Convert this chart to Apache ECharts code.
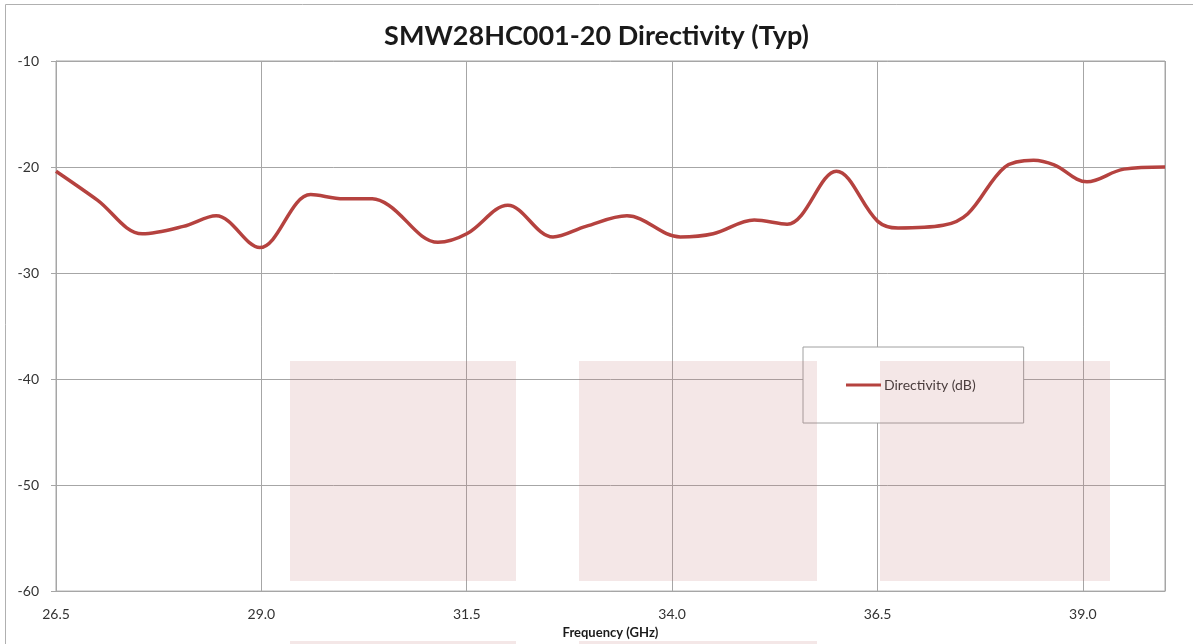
<!DOCTYPE html>
<html>
<head>
<meta charset="utf-8">
<title>SMW28HC001-20 Directivity</title>
<script src="https://cdn.jsdelivr.net/npm/echarts@6/dist/echarts.min.js"></script>
<style>
  html, body { margin: 0; padding: 0; background: #fff; }
  #main { width: 1193px; height: 644px; }
</style>
</head>
<body>
<div id="main"></div>
<script>
// frequency (GHz) and directivity (dB)
const freq = [26.5, 27.0, 27.55, 28.05, 28.45, 28.98, 29.6, 30.0, 30.35, 30.55,
              31.15, 31.5, 32.0, 32.55, 32.95, 33.45, 34.1, 34.5, 35.0, 35.4,
              36.0, 36.5, 36.75, 37.3, 37.6, 38.05, 38.4, 38.65, 39.05,
              39.5, 40.0];
const directivity = [-20.4, -23.1, -26.3, -25.6, -24.6, -27.6, -22.6, -23.0, -23.0, -23.6,
                     -27.1, -26.3, -23.6, -26.6, -25.6, -24.6, -26.6, -26.3, -25.0, -25.4,
                     -20.4, -25.1, -25.75, -25.5, -24.4, -20.0, -19.35, -19.8, -21.4,
                     -20.2, -20.0];
const xTicks = [26.5, 29.0, 31.5, 34.0, 36.5, 39.0];

let myChart = echarts.init(document.getElementById('main'));
const gridColor = '#a6a6a6';
const pink = 'rgba(190,110,110,0.17)';

let option = {
  animation: false,
  backgroundColor: '#fff',
  title: {
    text: 'SMW28HC001-20 Directivity (Typ)',
    left: 'center',
    top: 18,
    textStyle: { fontFamily: 'Lato', fontWeight: 'bold', fontSize: 27, color: '#1a1a1a' }
  },
  grid: { left: 56, top: 61, right: 28, bottom: 50, show: true, borderColor: gridColor, borderWidth: 1 },
  legend: {
    left: 803, top: 347,
    padding: [31, 48, 31, 43],
    backgroundColor: '#fff',
    borderColor: '#a0a0a0',
    borderWidth: 1,
    borderRadius: 0,
    itemWidth: 35,
    itemHeight: 3,
    itemGap: 0,
    textStyle: { fontFamily: 'Lato', fontSize: 14, color: '#333', padding: [0, 0, 0, -2] },
    data: [{ name: 'Directivity (dB)', icon: 'rect' }]
  },
  xAxis: {
    type: 'value',
    min: 26.5, max: 40, interval: 2.5,
    name: 'Frequency (GHz)',
    nameLocation: 'middle',
    nameGap: 32,
    nameTextStyle: { fontFamily: 'Lato', fontWeight: 'bold', fontSize: 13, color: '#1a1a1a' },
    axisLine: { lineStyle: { color: gridColor } },
    axisTick: { show: false },
    axisLabel: {
      margin: 16, fontFamily: 'Lato', fontSize: 14, color: '#333',
      showMaxLabel: false,
      formatter: v => xTicks.includes(v) ? v.toFixed(1) : ''
    },
    splitLine: { lineStyle: { color: gridColor } }
  },
  yAxis: {
    type: 'value',
    min: -60, max: -10, interval: 10,
    axisLine: { show: true, lineStyle: { color: gridColor } },
    axisTick: { show: true, length: 5, lineStyle: { color: gridColor } },
    axisLabel: { margin: 17, fontFamily: 'Lato', fontSize: 14, color: '#333' },
    splitLine: { lineStyle: { color: gridColor } }
  },
  series: [
    {
      name: 'Directivity (dB)',
      type: 'line',
      symbol: 'none',
      smooth: 0.35,
      lineStyle: { color: '#b5423f', width: 3.5 },
      itemStyle: { color: '#b5423f' },
      data: freq.map((f, i) => [f, directivity[i]])
    }
  ],
  graphic: [
    // outer frame
    { type: 'rect', z: 100, shape: { x: 5.5, y: 4.5, width: 1300, height: 800 },
      style: { fill: 'none', stroke: '#b0b0b0', lineWidth: 1 }, silent: true },
    // faint watermark blocks
    { type: 'rect', z: 100, shape: { x: 290, y: 361, width: 226, height: 220 }, style: { fill: pink }, silent: true },
    { type: 'rect', z: 100, shape: { x: 579, y: 361, width: 238, height: 220 }, style: { fill: pink }, silent: true },
    { type: 'rect', z: 100, shape: { x: 880, y: 361, width: 230, height: 220 }, style: { fill: pink }, silent: true },
    { type: 'rect', z: 100, shape: { x: 290, y: 641, width: 226, height: 10 }, style: { fill: pink }, silent: true },
    { type: 'rect', z: 100, shape: { x: 579, y: 641, width: 238, height: 10 }, style: { fill: pink }, silent: true }
  ]
};

myChart.setOption(option);
</script>
</body>
</html>
